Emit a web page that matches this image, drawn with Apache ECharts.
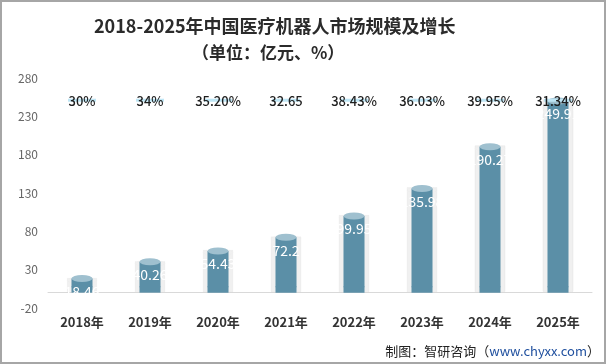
<!DOCTYPE html>
<html><head><meta charset="utf-8">
<script src="https://cdn.jsdelivr.net/npm/echarts@6/dist/echarts.min.js"></script>
<style>html,body{margin:0;padding:0;background:#fff}#c{width:606px;height:364px;box-sizing:border-box;border:2px solid #a6a6a6}</style>
</head><body><div id="c"></div>
<script>
var years = ['2018年','2019年','2020年','2021年','2022年','2023年','2024年','2025年'];
var marketSize = [18.46, 40.26, 54.43, 72.2, 99.95, 135.98, 190.27, 249.91];
var growthText = ['30%','34%','35.20%','32.65','38.43%','36.03%','39.95%','31.34%'];
var growthLabelLevel = [251, 251, 251, 251, 251, 251, 251, 251];
var yTicks = {min: -20, max: 280, interval: 50};

var chart = echarts.init(document.getElementById('c'), null, {renderer: 'canvas'});
var font = '"Noto Sans CJK SC","Noto Sans",sans-serif';
chart.setOption({
  animation: false,
  textStyle: {fontFamily: font},
  grid: {left: 46, right: 12, top: 76, bottom: 54},
  graphic: [
    {type: 'text', left: 92, top: 15, style: {text: '2018-2025年中国医疗机器人市场规模及增长', font: 'bold 18px ' + font, fill: '#2b2b2b'}},
    {type: 'text', left: 190, top: 42, style: {text: '（单位：亿元、%）', font: 'bold 17px ' + font, fill: '#2b2b2b'}},
    {type: 'text', right: 4, bottom: 4, style: {rich: {a: {fontSize: 13, fill: '#222', fontFamily: font}, b: {fontSize: 13, fill: '#1f4f9e', fontFamily: font}}, text: '{a|制图：智研咨询（}{b|www.chyxx.com}{a|）}'}}
  ],
  xAxis: {
    type: 'category', data: years,
    axisLine: {onZero: true, lineStyle: {color: '#d9d9d9', width: 1}},
    axisTick: {show: false},
    axisLabel: {color: '#333', fontSize: 13, fontWeight: 'bold', margin: 8}
  },
  yAxis: {
    type: 'value', min: yTicks.min, max: yTicks.max, interval: yTicks.interval,
    axisLine: {show: false}, axisTick: {show: false}, splitLine: {show: false},
    axisLabel: {color: '#666', fontSize: 12, margin: 10}
  },
  series: [
    {type: 'pictorialBar', data: marketSize, symbol: 'rect', symbolSize: [30, '100%'], z: 1, silent: true,
     itemStyle: {color: 'rgba(228,228,228,0.55)', borderColor: '#d2d2d2', borderWidth: 1}},
    {type: 'pictorialBar', data: marketSize, symbol: 'circle', symbolSize: [30, 7], symbolPosition: 'end', symbolOffset: [0, '-30%'], z: 1, silent: true,
     itemStyle: {color: '#f0f0f0', borderColor: '#d4d4d4', borderWidth: 1}},
    {type: 'pictorialBar', data: marketSize, symbol: 'circle', symbolSize: [21, 6], symbolPosition: 'start', symbolOffset: [0, '-50%'], z: 2,
     itemStyle: {color: '#5b8fa7'}},
    {type: 'pictorialBar', data: marketSize, symbol: 'rect', symbolSize: [21, '100%'], z: 3,
     itemStyle: {color: '#5b8fa7'},
     label: {show: true, position: 'insideTop', distance: 6, color: '#fff', fontSize: 14, fontFamily: font, textBorderWidth: 0}},
    {type: 'pictorialBar', data: marketSize, symbol: 'circle', symbolSize: [21, 7], symbolPosition: 'end', symbolOffset: [0, '-50%'], z: 4,
     itemStyle: {color: '#9fc0cf'}},
    {type: 'scatter', data: growthLabelLevel, symbol: 'rect', symbolSize: [28, 3], z: 5, silent: true,
     itemStyle: {color: '#bfe6f5', opacity: 1}},
    {type: 'scatter', data: growthLabelLevel, symbol: 'rect', symbolSize: [2, 2], z: 6,
     itemStyle: {color: 'rgba(0,0,0,0)', opacity: 1},
     label: {show: true, position: 'top', distance: -8, color: '#1e1e1e', fontSize: 13, fontWeight: 500, fontFamily: font, textBorderWidth: 0,
       formatter: function(p){ return growthText[p.dataIndex]; }}}
  ]
});
</script></body></html>
